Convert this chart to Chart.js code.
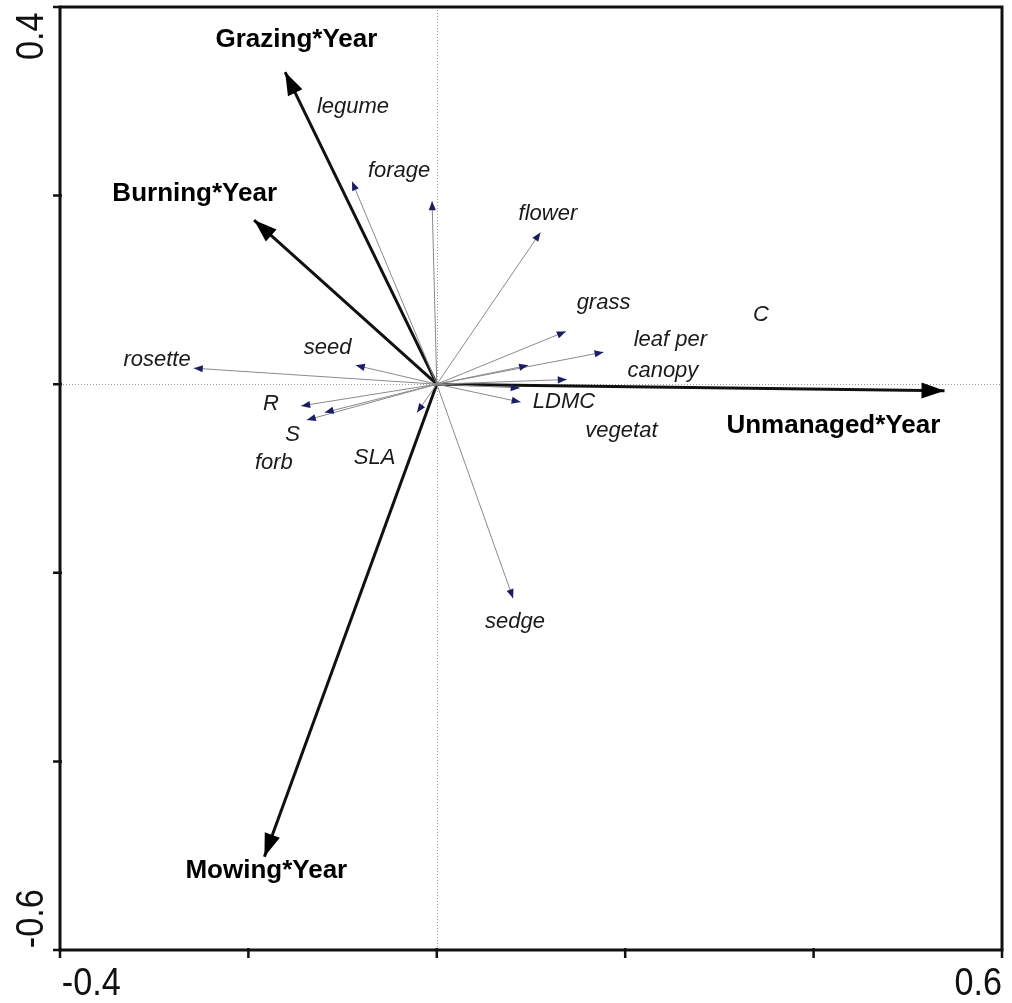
<!DOCTYPE html>
<html>
<head>
<meta charset="utf-8">
<script src="https://cdn.jsdelivr.net/npm/chart.js@4/dist/chart.umd.min.js"></script>
<style>
  html, body { margin: 0; padding: 0; background: #fff; }
  #wrap { width: 1012px; height: 1003px; }
</style>
</head>
<body>
<div id="wrap"><canvas id="c" width="1012" height="1003"></canvas></div>
<script>
// Axis ranges and the tick values shown along the frame
const xRange = [-0.4, 0.6];
const yRange = [-0.6, 0.4];
const xTicks = [-0.4, -0.2, 0, 0.2, 0.4, 0.6];
const yTicks = [-0.6, -0.4, -0.2, 0, 0.2, 0.4];
const xTickLabels = ['-0.4', '', '', '', '', '0.6'];
const yTickLabels = ['-0.6', '', '', '', '', '0.4'];

// Management-by-year explanatory variables (arrow end points)
const envNames = ['Grazing*Year', 'Burning*Year', 'Unmanaged*Year', 'Mowing*Year'];
const envX = [-0.161, -0.194, 0.539, -0.183];
const envY = [0.331, 0.174, -0.007, -0.501];

// Trait / functional group response variables (arrow end points)
const spNames = ['legume', 'forage', 'flower', 'grass', 'leaf per', 'C', 'canopy', 'vegetat',
                 'LDMC', 'sedge', 'rosette', 'seed', 'R', 'S', 'forb', 'SLA'];
const spX = [-0.090, -0.005, 0.110, 0.137, 0.177, 0.097, 0.138, 0.088,
             0.089, 0.081, -0.258, -0.086, -0.144, -0.119, -0.138, -0.021];
const spY = [0.215, 0.194, 0.161, 0.056, 0.034, 0.020, 0.005, -0.004,
             -0.019, -0.227, 0.017, 0.020, -0.023, -0.030, -0.038, -0.030];

// Where each name is written, in axis units
const envLabelAt = [[-0.149, 0.365], [-0.257, 0.202], [0.421, -0.044], [-0.181, -0.516]];
const spLabelAt = [[-0.089, 0.294], [-0.040, 0.226], [0.118, 0.181], [0.177, 0.086],
                   [0.248, 0.047], [0.344, 0.073], [0.240, 0.014], [0.196, -0.050],
                   [0.135, -0.019], [0.083, -0.252], [-0.297, 0.026], [-0.116, 0.038],
                   [-0.176, -0.021], [-0.153, -0.054], [-0.173, -0.083], [-0.066, -0.078]];

const FONT = '"Liberation Sans", Arial, Helvetica, sans-serif';

const datasets = [];
spNames.forEach((n, i) => datasets.push({
  label: n, kind: 'sp',
  data: [{ x: 0, y: 0 }, { x: spX[i], y: spY[i] }],
  showLine: true, borderColor: '#8a8a8a', borderWidth: 1, pointRadius: 0
}));
envNames.forEach((n, i) => datasets.push({
  label: n, kind: 'env',
  data: [{ x: 0, y: 0 }, { x: envX[i], y: envY[i] }],
  showLine: true, borderColor: '#111', borderWidth: 3, pointRadius: 0
}));

function head(ctx, x0, y0, x1, y1, len, half, color) {
  const a = Math.atan2(y1 - y0, x1 - x0);
  ctx.save();
  ctx.translate(x1, y1);
  ctx.rotate(a);
  ctx.beginPath();
  ctx.moveTo(0, 0);
  ctx.lineTo(-len, -half);
  ctx.lineTo(-len, half);
  ctx.closePath();
  ctx.fillStyle = color;
  ctx.fill();
  ctx.restore();
}

const biplot = {
  id: 'biplot',
  beforeDatasetsDraw(chart) {
    const { ctx, chartArea: ca, scales: { x, y } } = chart;
    ctx.save();
    ctx.strokeStyle = '#9a9a9a';
    ctx.lineWidth = 1;
    ctx.setLineDash([1, 2]);
    const x0 = Math.round(x.getPixelForValue(0)) + 0.5;
    const y0 = Math.round(y.getPixelForValue(0)) + 0.5;
    ctx.beginPath();
    ctx.moveTo(x0, ca.top); ctx.lineTo(x0, ca.bottom);
    ctx.moveTo(ca.left, y0); ctx.lineTo(ca.right, y0);
    ctx.stroke();
    ctx.restore();
  },
  afterDatasetsDraw(chart) {
    const { ctx, chartArea: ca, scales: { x, y } } = chart;
    const ox = x.getPixelForValue(0), oy = y.getPixelForValue(0);

    // arrow heads
    spNames.forEach((n, i) => {
      head(ctx, ox, oy, x.getPixelForValue(spX[i]), y.getPixelForValue(spY[i]), 9, 3.6, '#1c1c64');
    });
    envNames.forEach((n, i) => {
      head(ctx, ox, oy, x.getPixelForValue(envX[i]), y.getPixelForValue(envY[i]), 23, 8, '#000');
    });

    // names
    ctx.save();
    ctx.textAlign = 'center';
    ctx.textBaseline = 'middle';
    ctx.fillStyle = '#1a1a1a';
    ctx.font = 'italic 22px ' + FONT;
    spNames.forEach((n, i) => {
      ctx.fillText(n, x.getPixelForValue(spLabelAt[i][0]), y.getPixelForValue(spLabelAt[i][1]));
    });
    ctx.fillStyle = '#000';
    ctx.font = 'bold 26px ' + FONT;
    envNames.forEach((n, i) => {
      ctx.fillText(n, x.getPixelForValue(envLabelAt[i][0]), y.getPixelForValue(envLabelAt[i][1]));
    });
    ctx.restore();

    // frame
    ctx.save();
    ctx.strokeStyle = '#111';
    ctx.lineWidth = 3;
    ctx.strokeRect(ca.left, ca.top, ca.right - ca.left, ca.bottom - ca.top);
    ctx.lineWidth = 2.5;
    ctx.beginPath();
    xTicks.forEach(v => {
      const px = x.getPixelForValue(v);
      ctx.moveTo(px, ca.bottom - 2); ctx.lineTo(px, ca.bottom + 8);
    });
    yTicks.forEach(v => {
      const py = y.getPixelForValue(v);
      ctx.moveTo(ca.left - 7, py); ctx.lineTo(ca.left + 2, py);
    });
    ctx.stroke();

    // tick labels (end values only)
    ctx.fillStyle = '#111';
    ctx.font = '38px ' + FONT;
    ctx.textBaseline = 'alphabetic';
    xTicks.forEach((v, i) => {
      const t = xTickLabels[i];
      if (!t) return;
      const px = x.getPixelForValue(v);
      ctx.save();
      ctx.translate(px, ca.bottom + 45);
      ctx.scale(0.9, 1);
      ctx.textAlign = i === 0 ? 'left' : 'right';
      ctx.fillText(t, i === 0 ? 2 : 0, 0);
      ctx.restore();
    });
    yTicks.forEach((v, i) => {
      const t = yTickLabels[i];
      if (!t) return;
      const py = y.getPixelForValue(v);
      ctx.save();
      ctx.translate(ca.left - 17, py);
      ctx.rotate(-Math.PI / 2);
      ctx.scale(0.9, 1);
      ctx.textAlign = i === 0 ? 'left' : 'right';
      ctx.fillText(t, i === 0 ? 2 : -6, 0);
      ctx.restore();
    });
    ctx.restore();
  }
};

new Chart(document.getElementById('c'), {
  type: 'scatter',
  data: { datasets },
  options: {
    responsive: false,
    animation: false,
    devicePixelRatio: 1,
    layout: { padding: { left: 60, right: 10, top: 7, bottom: 53 } },
    plugins: { legend: { display: false }, tooltip: { enabled: false } },
    elements: { line: { tension: 0 } },
    scales: {
      x: { type: 'linear', min: xRange[0], max: xRange[1], display: false },
      y: { type: 'linear', min: yRange[0], max: yRange[1], display: false }
    }
  },
  plugins: [biplot]
});
</script>
</body>
</html>
